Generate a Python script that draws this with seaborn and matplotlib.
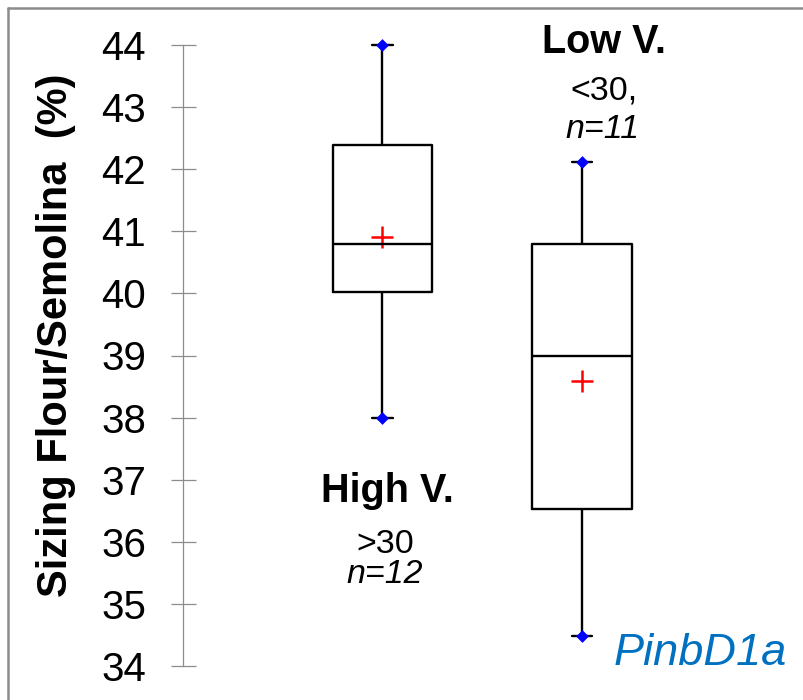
import numpy as np
import pandas as pd
import matplotlib
matplotlib.use("Agg")
import matplotlib.pyplot as plt
import seaborn as sns
from matplotlib.lines import Line2D

# ---- data ----
groups = ["High V.", "Low V."]
# five-number summaries: min, Q1, median, Q3, max
high_summary = [38.0, 40.02, 40.80, 42.39, 44.0]
low_summary = [34.48, 36.53, 38.99, 40.80, 42.12]
means = [40.91, 38.59]
yticks = [34, 35, 36, 37, 38, 39, 40, 41, 42, 43, 44]
ylabel = "Sizing Flour/Semolina  (%)"
group_titles = ["High V.", "Low V."]
group_sub1 = [">30", "<30,"]
group_sub2 = ["n=12", "n=11"]
tag = "PinbD1a"

df = pd.DataFrame({
    "group": [groups[0]] * len(high_summary) + [groups[1]] * len(low_summary),
    "value": high_summary + low_summary,
})
ext = pd.DataFrame({
    "group": [groups[0], groups[0], groups[1], groups[1]],
    "value": [high_summary[0], high_summary[-1], low_summary[0], low_summary[-1]],
})
mean_df = pd.DataFrame({"group": groups, "value": means})

sns.set_theme(style="white")
plt.rcParams["font.family"] = ["Liberation Sans", "DejaVu Sans"]
plt.rcParams["text.color"] = "black"

W, H = 804, 700
fig = plt.figure(figsize=(W / 100, H / 100), dpi=100)


def fx(x):
    return x / W


def fy(y):
    return 1 - y / H


ax = fig.add_axes([fx(183), fy(666), 598.5 / W, (666 - 45) / H])
ax.set_facecolor("none")

sns.boxplot(data=df, x="group", y="value", order=groups, width=0.5,
            whis=(0, 100), fill=False, color="black", linewidth=1.7,
            showfliers=False, ax=ax, capwidths=0.105)
sns.stripplot(data=ext, x="group", y="value", order=groups, jitter=False,
              marker="D", color="blue", size=6.5, linewidth=0, ax=ax, zorder=5)
sns.pointplot(data=mean_df, x="group", y="value", order=groups,
              linestyle="none", markers="+", color="red", markersize=16,
              markeredgewidth=1.8, errorbar=None, ax=ax)

for c in ax.collections:
    c.set_clip_on(False)
for l in ax.lines:
    l.set_clip_on(False)

ax.set_xlim(-1, 2)
ax.set_ylim(34, 44)
ax.set_yticks(yticks)
ax.set_xticks([])
ax.set_xlabel("")
ax.set_ylabel("")
for s in ["top", "right", "bottom"]:
    ax.spines[s].set_visible(False)
ax.spines["left"].set_color("#8c8c8c")
ax.spines["left"].set_linewidth(0.9)
ax.tick_params(axis="y", left=True, direction="inout", length=18, width=0.9,
               color="#8c8c8c", pad=17.6, labelsize=29, labelcolor="black")

fig.text(fx(56), fy(335.5), ylabel, rotation=90, ha="center", va="center",
         fontsize=30, fontweight="bold", color="black")

# group annotations
fig.text(fx(387), fy(502), group_titles[0], ha="center", va="baseline",
         fontsize=28.5, fontweight="bold", color="black")
fig.text(fx(385), fy(553), group_sub1[0], ha="center", va="baseline",
         fontsize=24.5, color="black")
fig.text(fx(385), fy(583), group_sub2[0], ha="center", va="baseline",
         fontsize=24.5, style="italic", color="black")
fig.text(fx(604), fy(53), group_titles[1], ha="center", va="baseline",
         fontsize=28.5, fontweight="bold", color="black")
fig.text(fx(604), fy(100), group_sub1[1], ha="center", va="baseline",
         fontsize=24.5, color="black")
fig.text(fx(602), fy(138), group_sub2[1], ha="center", va="baseline",
         fontsize=24.5, style="italic", color="black")
fig.text(fx(700), fy(665), tag, ha="center", va="baseline", fontsize=32.5,
         style="italic", color="#0070C0")

# slide frame
fig.add_artist(Line2D([fx(8), 1], [fy(8), fy(8)], color="#8c8c8c", lw=1.8))
fig.add_artist(Line2D([fx(8), fx(8)], [fy(8), 0], color="#8c8c8c", lw=1.8))

fig.savefig("out.png", dpi=100, facecolor="white")
